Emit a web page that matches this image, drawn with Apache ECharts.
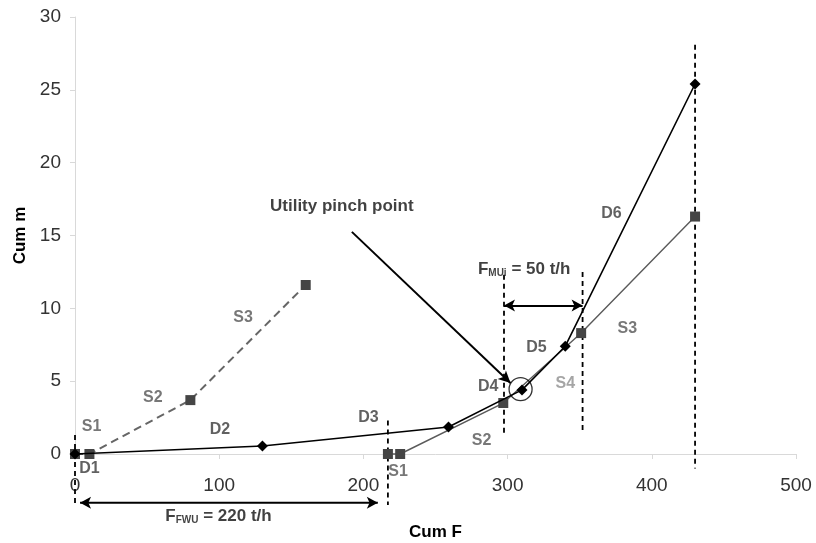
<!DOCTYPE html>
<html>
<head>
<meta charset="utf-8">
<script src="https://cdn.jsdelivr.net/npm/echarts@6/dist/echarts.min.js"></script>
<style>html,body{margin:0;padding:0;background:#fff}#c{width:816px;height:543px}</style>
</head>
<body>
<div id="c"></div>
<script>
// ---- data ----
const xTicks = [0, 100, 200, 300, 400, 500];
const yTicks = [0, 5, 10, 15, 20, 25, 30];
const xName = 'Cum F';
const yName = 'Cum m';

// demand composite curve (black, diamonds)
const demandF = [0, 130, 259, 310, 340, 430];
const demandM = [0, 0.55, 1.85, 4.4, 7.4, 25.4];

// freshwater-level supply curve (grey dashed, squares)
const supplyAF = [0, 10, 80, 160];
const supplyAM = [0, 0, 3.7, 11.6];

// shifted supply curve (grey solid, squares)
const supplyBF = [217, 225.5, 297, 351, 430];
const supplyBM = [0, 0, 3.5, 8.3, 16.3];

// utility pinch point
const pinchF = 309;
const pinchM = 4.45;

// vertical dashed guide lines
const guideF = [0, 217, 297.5, 352, 430];
const guideTop = [1.3, 2.3, 12.3, 12.5, 28.1];
const guideBottom = [-3.6, -3.5, 1.4, 1.4, -1.0];

// double arrows (flow-rate spans): FWU span, MUi span
const fwuSpan = [3.5, 210];
const fwuAt = -3.35;
const muSpan = [297.5, 352];
const muAt = 10.2;

// pinch annotation arrow
const pinchArrowFrom = [192, 15.25];
const pinchArrowTo = [302, 4.87];

// segment labels
const segText = ['S1', 'D1', 'S2', 'D2', 'S3', 'D3', 'S1', 'S2', 'D4', 'D5', 'S4', 'S3', 'D6'];
const segF    = [11.5, 10, 54, 100.5, 116.5, 203.5, 224, 282, 286.5, 320, 340, 383, 372];
const segM    = [1.9, -1.0, 3.85, 1.7, 9.35, 2.5, -1.2, 0.95, 4.65, 7.3, 4.85, 8.6, 16.5];
const segKind = ['S', 'D', 'S', 'D', 'S', 'D', 'S', 'S', 'D', 'D', 'L', 'S', 'D'];

// text annotations
const noteText = ['{a|Utility pinch point}', '{a|F}{s|MUi}{a| = 50 t/h}', '{a|F}{s|FWU}{a| = 220 t/h}'];
const noteF = [185, 311.5, 99.5];
const noteM = [17.1, 12.75, -4.2];

// ---- build ----
const zip = (a, b) => a.map((v, i) => [v, b[i]]);
const kindColor = { S: '#555555', D: '#3a3a3a', L: '#8f8f8f' };

const guideSeries = guideF.map((f, i) => ({
  type: 'line',
  data: [[f, guideTop[i]], [f, guideBottom[i]]],
  symbol: 'none',
  clip: false,
  silent: true,
  lineStyle: { color: '#000', width: 1.8, type: [5, 4] },
  z: 1
}));

const option = {
  animation: false,
  backgroundColor: '#fff',
  grid: { left: 75, right: 20, top: 17, bottom: 89, containLabel: false, outerBoundsMode: 'none' },
  xAxis: {
    type: 'value', min: xTicks[0], max: xTicks[xTicks.length - 1], interval: xTicks[1] - xTicks[0],
    name: xName, nameLocation: 'middle', nameGap: 70,
    nameTextStyle: { fontFamily: 'Liberation Sans', fontWeight: 'bold', fontSize: 17, color: '#000' },
    axisLine: { show: true, lineStyle: { color: '#d9d9d9', width: 1 } },
    axisTick: { show: true, length: 5, lineStyle: { color: '#d9d9d9' } },
    axisLabel: { fontFamily: 'Liberation Sans', fontSize: 19, color: '#333', margin: 22 },
    splitLine: { show: false }
  },
  yAxis: {
    type: 'value', min: yTicks[0], max: yTicks[yTicks.length - 1], interval: yTicks[1] - yTicks[0],
    name: yName, nameLocation: 'middle', nameGap: 43, nameRotate: 90,
    nameTextStyle: { fontFamily: 'Liberation Sans', fontWeight: 'bold', fontSize: 17, color: '#000' },
    axisLine: { show: true, lineStyle: { color: '#d9d9d9', width: 1 } },
    axisTick: { show: true, length: 5, lineStyle: { color: '#d9d9d9' } },
    axisLabel: { fontFamily: 'Liberation Sans', fontSize: 19, color: '#333', margin: 14 },
    splitLine: { show: false }
  },
  series: [
    ...guideSeries,
    {
      type: 'line', name: 'fwuArrow', clip: false, silent: true,
      data: [
        { value: [fwuSpan[0], fwuAt], symbol: 'arrow', symbolRotate: 90 },
        { value: [fwuSpan[1], fwuAt], symbol: 'arrow', symbolRotate: -90 }
      ],
      symbolSize: [9, 11], showAllSymbol: true,
      itemStyle: { color: '#000' },
      lineStyle: { color: '#000', width: 2 },
      z: 2
    },
    {
      type: 'line', name: 'muArrow', clip: false, silent: true,
      data: [], symbol: 'none',
      markLine: {
        silent: true, symbol: ['arrow', 'arrow'], symbolSize: [9, 11], animation: false,
        label: { show: false },
        lineStyle: { color: '#000', width: 2, type: 'solid' },
        data: [[{ coord: [muSpan[0], muAt] }, { coord: [muSpan[1], muAt] }]]
      }
    },
    {
      type: 'line', name: 'pinchArrow', data: [], symbol: 'none', clip: false, silent: true,
      markLine: {
        silent: true, symbol: ['none', 'arrow'], symbolSize: [9, 12], animation: false,
        label: { show: false },
        lineStyle: { color: '#000', width: 2, type: 'solid' },
        data: [[{ coord: pinchArrowFrom }, { coord: pinchArrowTo }]]
      }
    },
    {
      type: 'line', name: 'supplyA', data: zip(supplyAF, supplyAM),
      symbol: 'rect', symbolSize: 10, showAllSymbol: true, clip: false,
      itemStyle: { color: '#454545' },
      lineStyle: { color: '#666', width: 2, type: [8, 5] },
      z: 3
    },
    {
      type: 'line', name: 'supplyB', data: zip(supplyBF, supplyBM),
      symbol: 'rect', symbolSize: 10, showAllSymbol: true, clip: false,
      itemStyle: { color: '#454545' },
      lineStyle: { color: '#5a5a5a', width: 1.4 },
      z: 3
    },
    {
      type: 'line', name: 'demand', data: zip(demandF, demandM),
      symbol: 'diamond', symbolSize: 11, showAllSymbol: true, clip: false,
      itemStyle: { color: '#000' },
      lineStyle: { color: '#000', width: 1.6 },
      z: 4
    },
    {
      type: 'scatter', name: 'pinch', data: [[pinchF, pinchM]],
      symbol: 'circle', symbolSize: 23, clip: false,
      itemStyle: { color: 'rgba(0,0,0,0)', borderColor: '#000', borderWidth: 1.3 },
      z: 5
    },
    {
      type: 'scatter', name: 'segLabels', clip: false, silent: true,
      symbolSize: 0,
      data: segText.map((t, i) => ({
        value: [segF[i], segM[i]], name: t,
        label: { color: kindColor[segKind[i]] }
      })),
      label: {
        show: true, position: 'inside', formatter: p => p.name,
        fontFamily: 'Liberation Sans', fontWeight: 'bold', fontSize: 16
      },
      z: 6
    },
    {
      type: 'scatter', name: 'notes', clip: false, silent: true,
      symbolSize: 0,
      data: noteText.map((t, i) => ({ value: [noteF[i], noteM[i]], name: t })),
      label: {
        show: true, position: 'inside', formatter: p => p.name, color: '#000',
        rich: {
          a: { fontFamily: 'Liberation Sans', fontWeight: 'bold', fontSize: 17, color: '#111', verticalAlign: 'bottom', lineHeight: 20 },
          s: { fontFamily: 'Liberation Sans', fontWeight: 'bold', fontSize: 10, color: '#111', verticalAlign: 'bottom', lineHeight: 14, padding: [8, 0, 0, 0] }
        }
      },
      z: 6
    }
  ]
};

const chart = echarts.init(document.getElementById('c'), null, { renderer: 'canvas' });
chart.setOption(option);
</script>
</body>
</html>
